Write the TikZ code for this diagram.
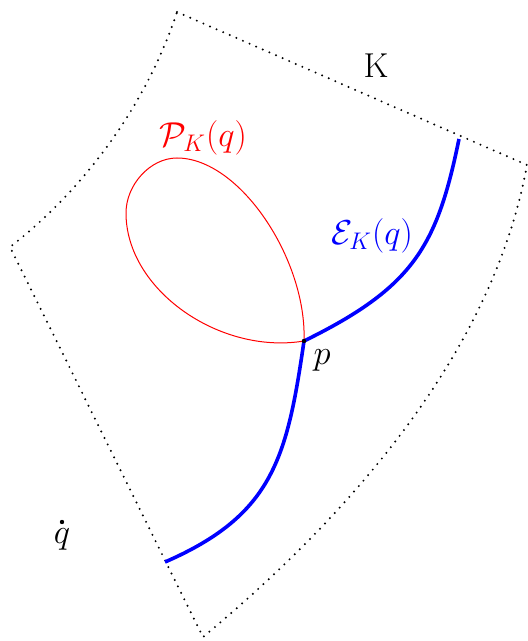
\documentclass[tikz,border=0pt]{standalone}
\usetikzlibrary{positioning}

\tikzset{
  bound/.style={line width=1.1pt, line cap=round, dash pattern=on 0pt off 3.6pt},
  ecurve/.style={blue, line width=1.8pt},
  pcurve/.style={red, line width=0.5pt},
  mlabel/.style={font=\LARGE, inner sep=1pt},
}

\begin{document}
\begin{tikzpicture}[x=0.5pt, y=-0.5pt]
  \useasboundingbox (0,0) rectangle (528,641);

  %% the region K
  \coordinate (ktop)   at (177,12);
  \coordinate (kright) at (527,165);
  \coordinate (kbot)   at (203,637);
  \coordinate (kleft)  at (10,247);
  \draw[bound] (ktop) -- (kright)
    .. controls (493,352) and (350,515) .. (kbot) -- (kleft)
    .. controls (86,188) and (147,103) .. (ktop);
  \node[mlabel] (klabel) at (376,66) {K};

  %% P_K(q), closed loop through p
  \coordinate (p) at (304,341);
  \draw[pcurve] (p) .. controls (307,260) and (240,158) .. (177,158)
    .. controls (150,158) and (126,185) .. (126,213)
    .. controls (126,290) and (220,355) .. (p);
  \node[mlabel, red] (plabel) at (203,138) {$\mathcal{P}_K(q)$};

  %% E_K(q)
  \coordinate (etop) at (459,139);
  \coordinate (ebot) at (165,562);
  \draw[ecurve] (etop) .. controls (437,246) and (414,287) .. (p)
    .. controls (287,458) and (273,515) .. (ebot);
  \node[mlabel, blue] (elabel) at (372,236) {$\mathcal{E}_K(q)$};

  \fill (p) circle (1.1pt);
  \node[mlabel] (plab) at (322,360) {$p$};

  %% the point q
  \coordinate (q) at (62,522);
  \fill (q) circle (1.1pt);
  \node[mlabel, below=2pt of q] (qlab) {$q$};

\end{tikzpicture}
\end{document}
